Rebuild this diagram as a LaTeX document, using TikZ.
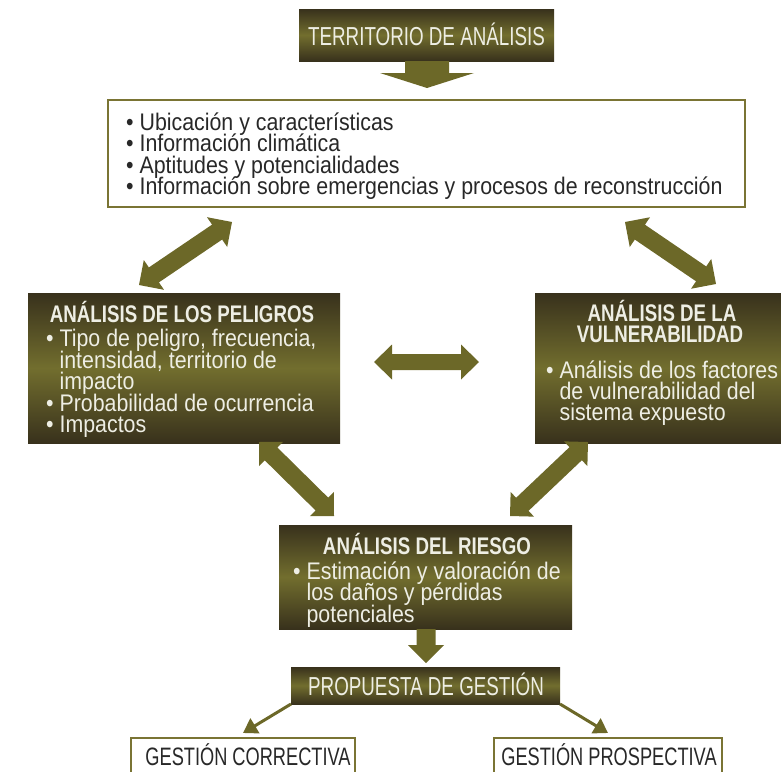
\documentclass[tikz,border=0pt]{standalone}
\usepackage{fontspec}
\setmainfont{Liberation Sans}[FakeStretch=0.89]
\newfontfamily\capfont{Liberation Sans}[FakeStretch=0.723]
\newfontfamily\headfont{Liberation Sans}[FakeStretch=0.78]
\usetikzlibrary{calc,arrows.meta}
\definecolor{boxdark}{RGB}{56,49,28}
\definecolor{boxmid}{RGB}{114,110,46}
\definecolor{arrowcol}{RGB}{108,104,40}
\definecolor{bordercol}{RGB}{122,116,52}
\definecolor{lighttext}{RGB}{238,238,228}
\definecolor{darktext}{RGB}{40,40,40}
\newcommand\fatdbl[5]{%
 \fill[arrowcol] (#1) -- ($(#1)!#5!(#2)!#4!90:(#2)$) -- ($(#1)!#5!(#2)!#3!90:(#2)$)
  -- ($(#2)!#5!(#1)!#3!-90:(#1)$) -- ($(#2)!#5!(#1)!#4!-90:(#1)$) -- (#2)
  -- ($(#2)!#5!(#1)!#4!90:(#1)$) -- ($(#2)!#5!(#1)!#3!90:(#1)$)
  -- ($(#1)!#5!(#2)!#3!-90:(#2)$) -- ($(#1)!#5!(#2)!#4!-90:(#2)$) -- cycle;}
\newcommand\fatone[5]{%
 \fill[arrowcol] ($(#1)!#3!90:(#2)$) -- ($(#2)!#5!(#1)!#3!-90:(#1)$) -- ($(#2)!#5!(#1)!#4!-90:(#1)$)
  -- (#2) -- ($(#2)!#5!(#1)!#4!90:(#1)$) -- ($(#2)!#5!(#1)!#3!90:(#1)$) -- ($(#1)!#3!-90:(#2)$) -- cycle;}
\tikzset{
  darkbox/.style={draw=none, top color=boxdark, bottom color=boxdark, middle color=boxmid},
  whitebox/.style={draw=bordercol, line width=2pt, fill=white},
  captext/.style={font=\capfont\fontsize{26}{26}\selectfont, inner sep=0pt},
  gestext/.style={font=\capfont\fontsize{25.2}{26}\selectfont, inner sep=0pt, text=darktext, anchor=base},
  headtext/.style={font=\headfont\bfseries\fontsize{24}{22}\selectfont, text=lighttext, inner sep=0pt, anchor=base, text height=15pt, text depth=4pt},
  bodytext/.style={font=\fontsize{24}{22}\selectfont, inner sep=0pt, anchor=base west, text height=15pt, text depth=5pt},
  thinarrow/.style={draw=arrowcol, line width=3pt, -{Triangle[width=17pt,length=14pt]}}
}
\newcommand\ind{\phantom{\textbullet\ }}
\begin{document}
\begin{tikzpicture}[x=1pt,y=-1pt]
\useasboundingbox (0,0) rectangle (781,771);
% title
\path[darkbox] (299,9) rectangle (554,61);
\node[captext, text=lighttext, anchor=base] (title) at (426.5,45) {TERRITORIO DE ANÁLISIS};
\coordinate (titleB) at (427,61);
\coordinate (titleT) at (427,88);
\fatone{titleB}{titleT}{22pt}{47pt}{15pt}

% info box
\path[whitebox] (108,100) rectangle (745,207);
\foreach \t [count=\i] in {{\textbullet\ Ubicación y características},{\textbullet\ Información climática},{\textbullet\ Aptitudes y potencialidades},{\textbullet\ Información sobre emergencias y procesos de reconstrucción}}
  \node[bodytext, text=darktext] (info\i) at (126,{130+21.5*(\i-1)}) {\t};

% peligros
\path[darkbox] (28,293) rectangle (340,443);
\node[headtext] (pelh) at (182,322) {ANÁLISIS DE LOS PELIGROS};
\foreach \t [count=\i] in {{\textbullet\ Tipo de peligro, frecuencia,},{\ind intensidad, territorio de},{\ind impacto},{\textbullet\ Probabilidad de ocurrencia},{\textbullet\ Impactos}}
  \node[bodytext, text=lighttext] (pel\i) at (46,{346.5+21.5*(\i-1)}) {\t};

% vulnerabilidad
\path[darkbox] (535,293) rectangle (783,443);
\node[headtext] (vulh1) at (662,321) {ANÁLISIS DE LA};
\node[headtext] (vulh2) at (660,342) {VULNERABILIDAD};
\foreach \t [count=\i] in {{\textbullet\ Análisis de los factores},{\ind de vulnerabilidad del},{\ind sistema expuesto}}
  \node[bodytext, text=lighttext] (vul\i) at (546,{378+21*(\i-1)}) {\t};

% riesgo
\path[darkbox] (279,525) rectangle (572,629);
\node[headtext] (rieh) at (427,554) {ANÁLISIS DEL RIESGO};
\foreach \t [count=\i] in {{\textbullet\ Estimación y valoración de},{\ind los daños y pérdidas},{\ind potenciales}}
  \node[bodytext, text=lighttext] (rie\i) at (293,{579+21.5*(\i-1)}) {\t};
\coordinate (rieB) at (426,629);
\coordinate (rieT) at (426,663);
\fatone{rieB}{rieT}{9.5pt}{18pt}{18pt}

% propuesta
\path[darkbox] (291,667) rectangle (560,704);
\node[captext, text=lighttext, anchor=base] (prop) at (426,695) {PROPUESTA DE GESTIÓN};
\coordinate (propSW) at (291,704);
\coordinate (propSE) at (560,704);

% gestion boxes
\path[whitebox] (131,738) rectangle (355,790);
\node[gestext] (corr) at (248,765) {GESTIÓN CORRECTIVA};
\path[whitebox] (494,738) rectangle (722,790);
\node[gestext] (pros) at (609,765) {GESTIÓN PROSPECTIVA};
\coordinate (corrT) at (243,733);
\coordinate (prosT) at (608,733);
\draw[thinarrow] (propSW) -- (corrT);
\draw[thinarrow] (propSE) -- (prosT);

% double arrows
\coordinate (l1a) at (139,285); \coordinate (l1b) at (232,222);
\fatdbl{l1a}{l1b}{9pt}{18pt}{18pt}
\coordinate (r1a) at (625,222); \coordinate (r1b) at (716,284);
\fatdbl{r1a}{r1b}{9pt}{18pt}{18pt}
\coordinate (ha) at (374,362); \coordinate (hb) at (479,362);
\fatdbl{ha}{hb}{8pt}{17.5pt}{18pt}
\coordinate (l2a) at (259,442); \coordinate (l2b) at (334,516);
\fatdbl{l2a}{l2b}{9pt}{17pt}{17pt}
\coordinate (r2a) at (588,442); \coordinate (r2b) at (510,516);
\fatdbl{r2a}{r2b}{9pt}{17pt}{17pt}
\end{tikzpicture}
\end{document}
